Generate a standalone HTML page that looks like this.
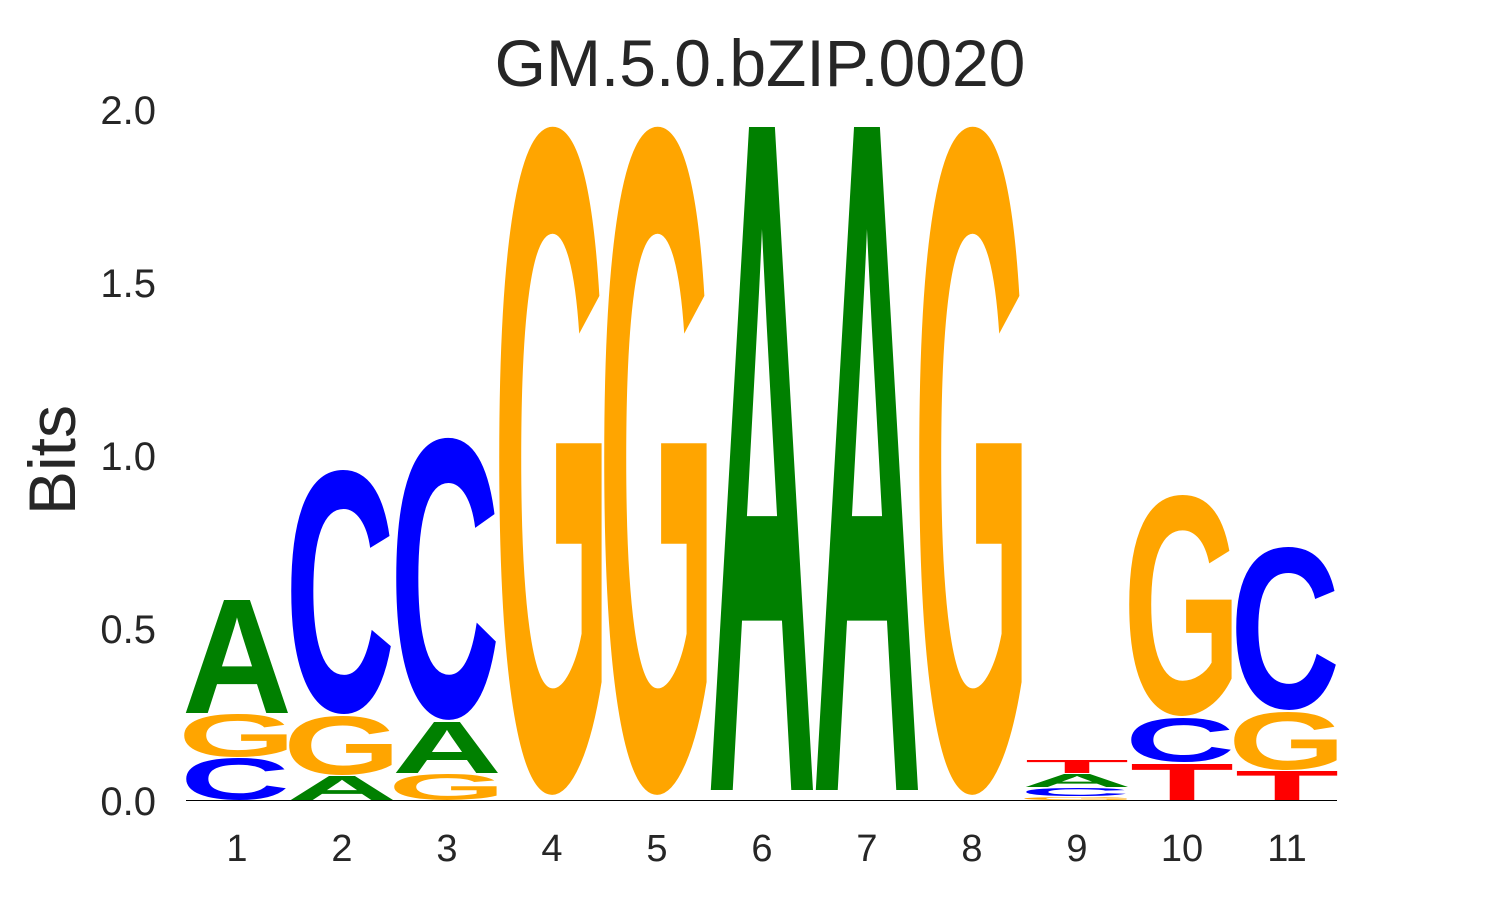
<!DOCTYPE html>
<html><head><meta charset="utf-8"><style>
html,body{margin:0;padding:0;background:#fff;overflow:hidden;}
svg{display:block;}
</style></head><body>
<svg width="1485" height="900" viewBox="0 0 1485 900" xmlns="http://www.w3.org/2000/svg">
<rect width="1485" height="900" fill="#fff"/>
<text x="760" y="86" font-family="Liberation Sans, sans-serif" font-size="66" text-anchor="middle" fill="#262626">GM.5.0.bZIP.0020</text>
<g font-family="Liberation Sans, sans-serif" font-size="40" fill="#262626" text-anchor="end">
<text x="156" y="124">2.0</text>
<text x="156" y="297">1.5</text>
<text x="156" y="470">1.0</text>
<text x="156" y="643">0.5</text>
<text x="156" y="815">0.0</text>
</g>
<text transform="translate(75,460) rotate(-90)" font-family="Liberation Sans, sans-serif" font-size="66" text-anchor="middle" fill="#262626">Bits</text>
<g font-family="Liberation Sans, sans-serif" font-size="38" fill="#262626" text-anchor="middle">
<text x="237" y="861">1</text><text x="342" y="861">2</text><text x="447" y="861">3</text><text x="552" y="861">4</text><text x="657" y="861">5</text><text x="762" y="861">6</text><text x="867" y="861">7</text><text x="972" y="861">8</text><text x="1077" y="861">9</text><text x="1182" y="861">10</text><text x="1287" y="861">11</text>
</g>
<g font-family="Liberation Sans, sans-serif" font-weight="bold" font-size="100">
<!-- 1 -->
<text transform="translate(180,799.4) scale(1,0.593)" textLength="110" lengthAdjust="spacingAndGlyphs" fill="#0000FF">C</text>
<text transform="translate(178,756.4) scale(1,0.607)" textLength="118" lengthAdjust="spacingAndGlyphs" fill="#FFA500">G</text>
<text transform="translate(182,713) scale(1,1.642)" textLength="110" lengthAdjust="spacingAndGlyphs" fill="#008000">A</text>
<!-- 2 -->
<text transform="translate(287,800) scale(1,0.349)" textLength="110" lengthAdjust="spacingAndGlyphs" fill="#008000">A</text>
<text transform="translate(283,774.2) scale(1,0.833)" textLength="118" lengthAdjust="spacingAndGlyphs" fill="#FFA500">G</text>
<text transform="translate(285,710.6) scale(1,3.446)" textLength="110" lengthAdjust="spacingAndGlyphs" fill="#0000FF">C</text>
<!-- 3 -->
<text transform="translate(388,799.6) scale(1,0.367)" textLength="118" lengthAdjust="spacingAndGlyphs" fill="#FFA500">G</text>
<text transform="translate(392,773) scale(1,0.741)" textLength="110" lengthAdjust="spacingAndGlyphs" fill="#008000">A</text>
<text transform="translate(390,716) scale(1,3.983)" textLength="110" lengthAdjust="spacingAndGlyphs" fill="#0000FF">C</text>
<!-- 4,5 -->
<text transform="translate(493,785.6) scale(1,9.435)" textLength="118" lengthAdjust="spacingAndGlyphs" fill="#FFA500">G</text>
<text transform="translate(598,785.6) scale(1,9.435)" textLength="118" lengthAdjust="spacingAndGlyphs" fill="#FFA500">G</text>
<!-- 6,7 -->
<text transform="translate(707,790) scale(1,9.637)" textLength="110" lengthAdjust="spacingAndGlyphs" fill="#008000">A</text>
<text transform="translate(812,790) scale(1,9.637)" textLength="110" lengthAdjust="spacingAndGlyphs" fill="#008000">A</text>
<!-- 8 -->
<text transform="translate(913,785.6) scale(1,9.435)" textLength="118" lengthAdjust="spacingAndGlyphs" fill="#FFA500">G</text>
<!-- 9 -->
<text transform="translate(1018,800) scale(1,0.042)" textLength="118" lengthAdjust="spacingAndGlyphs" fill="#FFA500">G</text>
<text transform="translate(1020,795.9) scale(1,0.113)" textLength="110" lengthAdjust="spacingAndGlyphs" fill="#0000FF">C</text>
<text transform="translate(1022,787) scale(1,0.189)" textLength="110" lengthAdjust="spacingAndGlyphs" fill="#008000">A</text>
<text transform="translate(1025,773) scale(1,0.189)" textLength="104" lengthAdjust="spacingAndGlyphs" fill="#FF0000">T</text>
<!-- 10 -->
<text transform="translate(1130,800) scale(1,0.523)" textLength="104" lengthAdjust="spacingAndGlyphs" fill="#FF0000">T</text>
<text transform="translate(1125,761.4) scale(1,0.621)" textLength="110" lengthAdjust="spacingAndGlyphs" fill="#0000FF">C</text>
<text transform="translate(1123,712.9) scale(1,3.121)" textLength="118" lengthAdjust="spacingAndGlyphs" fill="#FFA500">G</text>
<!-- 11 -->
<text transform="translate(1235,800) scale(1,0.422)" textLength="104" lengthAdjust="spacingAndGlyphs" fill="#FF0000">T</text>
<text transform="translate(1228,769.2) scale(1,0.819)" textLength="118" lengthAdjust="spacingAndGlyphs" fill="#FFA500">G</text>
<text transform="translate(1230,707.7) scale(1,2.302)" textLength="110" lengthAdjust="spacingAndGlyphs" fill="#0000FF">C</text>
</g>
<line x1="186" y1="800.5" x2="1337" y2="800.5" stroke="#000" stroke-width="1"/>
</svg>
</body></html>
